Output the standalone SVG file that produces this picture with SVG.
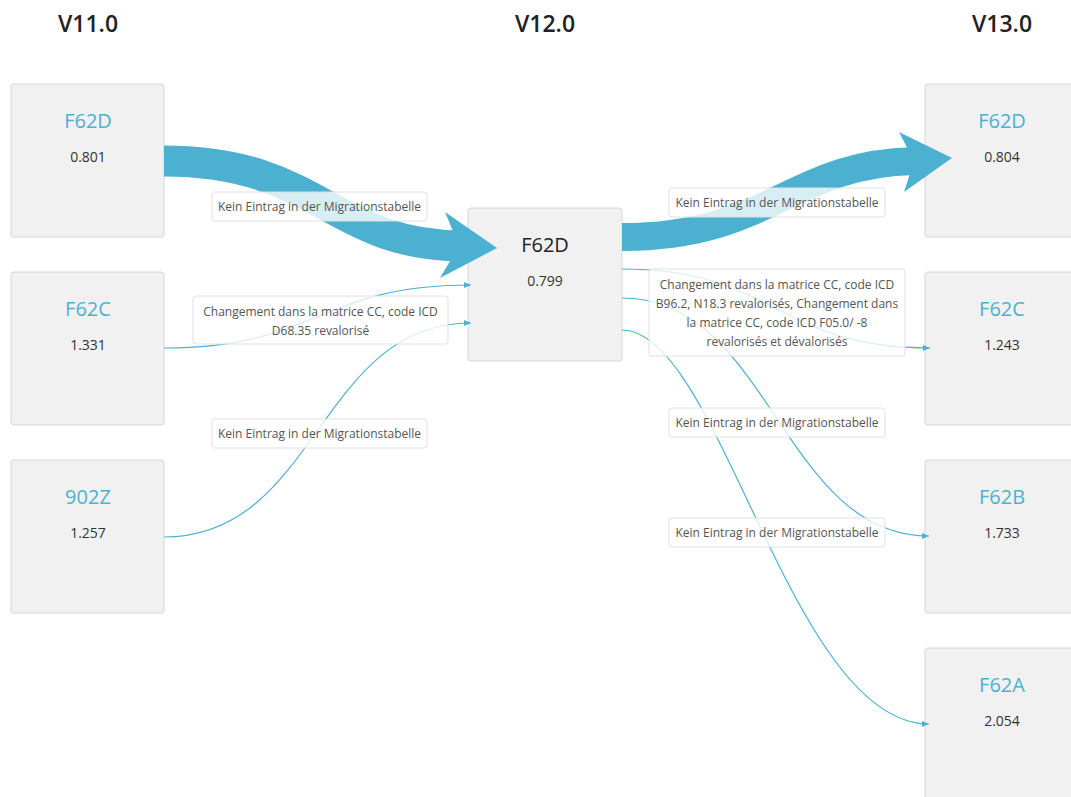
<svg xmlns="http://www.w3.org/2000/svg" width="1071" height="797" viewBox="0 0 1071 797">
<defs>
<style>
.hdr{font-family:"Open Sans","Liberation Sans",sans-serif;font-weight:600;font-size:23px;fill:#222;text-anchor:middle}
.node rect{fill:#f1f1f1;stroke:#d6d6d6;stroke-width:1}
.nt{font-family:"Open Sans","Liberation Sans",sans-serif;font-size:20px;fill:#4cb1d0;text-anchor:middle}
.ntc{font-family:"Open Sans","Liberation Sans",sans-serif;font-size:20px;fill:#222;text-anchor:middle}
.nv{font-family:"Open Sans","Liberation Sans",sans-serif;font-size:14px;fill:#333;text-anchor:middle}
.edge{fill:none;stroke:#4cb1d0;stroke-width:1.2}
.thick{fill:none;stroke:#4cb1d0}
.head{fill:#4cb1d0}
.lbl rect{fill:#fff;fill-opacity:0.78;stroke:#e0e0e0;stroke-width:1}
.lbl text{font-family:"Open Sans","Liberation Sans",sans-serif;font-size:12px;fill:#555;text-anchor:middle}
</style>
<marker id="arr" markerUnits="userSpaceOnUse" markerWidth="8" markerHeight="8" refX="7" refY="4" orient="auto">
<path d="M0,1 L7,4 L0,7 Z" fill="#4cb1d0"/>
</marker>
</defs>
<rect width="1071" height="797" fill="#fff"/>

<g id="headers">
<text class="hdr" x="88" y="32">V11.0</text>
<text class="hdr" x="545" y="32">V12.0</text>
<text class="hdr" x="1002" y="32">V13.0</text>
</g>

<g id="n-v11-F62D" class="node">
<rect x="11" y="84" width="153" height="153" rx="3"/>
<text class="nt" x="88" y="128">F62D</text>
<text class="nv" x="88" y="162">0.801</text>
</g>
<g id="n-v11-F62C" class="node">
<rect x="11" y="272" width="153" height="153" rx="3"/>
<text class="nt" x="88" y="316">F62C</text>
<text class="nv" x="88" y="350">1.331</text>
</g>
<g id="n-v11-902Z" class="node">
<rect x="11" y="460" width="153" height="153" rx="3"/>
<text class="nt" x="88" y="504">902Z</text>
<text class="nv" x="88" y="538">1.257</text>
</g>

<g id="n-v12-F62D" class="node">
<rect x="468" y="208" width="154" height="153" rx="3"/>
<text class="ntc" x="545" y="252">F62D</text>
<text class="nv" x="545" y="286">0.799</text>
</g>

<g id="n-v13-F62D" class="node">
<rect x="925" y="84" width="160" height="153" rx="3"/>
<text class="nt" x="1002" y="128">F62D</text>
<text class="nv" x="1002" y="162">0.804</text>
</g>
<g id="n-v13-F62C" class="node">
<rect x="925" y="272" width="160" height="153" rx="3"/>
<text class="nt" x="1002" y="316">F62C</text>
<text class="nv" x="1002" y="350">1.243</text>
</g>
<g id="n-v13-F62B" class="node">
<rect x="925" y="460" width="160" height="153" rx="3"/>
<text class="nt" x="1002" y="504">F62B</text>
<text class="nv" x="1002" y="538">1.733</text>
</g>
<g id="n-v13-F62A" class="node">
<rect x="925" y="648" width="160" height="160" rx="3"/>
<text class="nt" x="1002" y="692">F62A</text>
<text class="nv" x="1002" y="726">2.054</text>
</g>

<g id="connectors">
<path class="thick" stroke-width="31" d="M164,161 C320,161 330,245 462,246"/>
<polygon class="head" points="497,248 445,212 459,246 440,278"/>
<path class="thick" stroke-width="28" d="M622,237 C770,237 790,164 914,161"/>
<polygon class="head" points="952,158 899,132 914,161 904,192"/>

<path class="edge" d="M164,348 C318,348 318,285 471,285" marker-end="url(#arr)"/>
<path class="edge" d="M164,537 C318,537 318,323 471,323" marker-end="url(#arr)"/>
<path class="edge" stroke-width="2" d="M622,269 C776,269 776,348 930,348" marker-end="url(#arr)"/>
<path class="edge" d="M622,298 C770,298 782,536 929,536" marker-end="url(#arr)"/>
<path class="edge" d="M622,330 C720,330 790,724 929,724" marker-end="url(#arr)"/>

<g class="lbl">
<rect x="212" y="192" width="215" height="29" rx="3"/>
<text x="319.5" y="211">Kein Eintrag in der Migrationstabelle</text>
</g>
<g class="lbl">
<rect x="193" y="296" width="255" height="48" rx="3"/>
<text x="320.5" y="316">Changement dans la matrice CC, code ICD</text>
<text x="320.5" y="335">D68.35 revalorisé</text>
</g>
<g class="lbl">
<rect x="212" y="419" width="215" height="29" rx="3"/>
<text x="319.5" y="438">Kein Eintrag in der Migrationstabelle</text>
</g>
<g class="lbl">
<rect x="669" y="188" width="216" height="29" rx="3"/>
<text x="777" y="207">Kein Eintrag in der Migrationstabelle</text>
</g>
<g class="lbl">
<rect x="649" y="269" width="256" height="87" rx="3"/>
<text x="777" y="289">Changement dans la matrice CC, code ICD</text>
<text x="777" y="308">B96.2, N18.3 revalorisés, Changement dans</text>
<text x="777" y="327">la matrice CC, code ICD F05.0/ -8</text>
<text x="777" y="346">revalorisés et dévalorisés</text>
</g>
<g class="lbl">
<rect x="669" y="408" width="216" height="29" rx="3"/>
<text x="777" y="427">Kein Eintrag in der Migrationstabelle</text>
</g>
<g class="lbl">
<rect x="669" y="518" width="216" height="29" rx="3"/>
<text x="777" y="537">Kein Eintrag in der Migrationstabelle</text>
</g>
</g>
</svg>
